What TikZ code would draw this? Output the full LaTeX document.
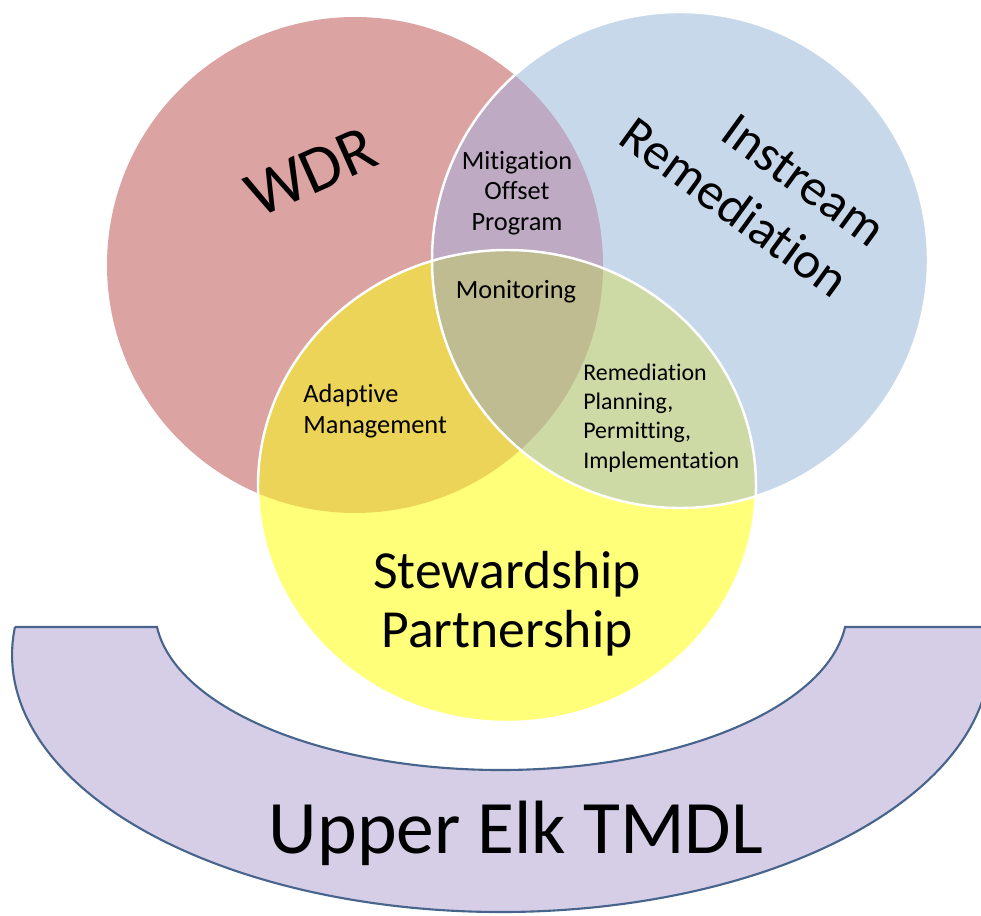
\documentclass[tikz,border=0pt]{standalone}
\usepackage{fontspec}
\setmainfont{Carlito}[Ligatures=NoCommon]

\definecolor{wdrred}{HTML}{DCA3A3}
\definecolor{streamblue}{HTML}{C8D8EB}
\definecolor{stewyellow}{HTML}{FFFF7A}
\definecolor{redblue}{HTML}{BEAAC3}
\definecolor{redyellow}{HTML}{ECD458}
\definecolor{blueyellow}{HTML}{CDDAA5}
\definecolor{allthree}{HTML}{C0BC92}
\definecolor{tmdlfill}{HTML}{D6CDE6}
\definecolor{tmdlline}{HTML}{46648C}

\begin{document}
\begin{tikzpicture}[x=0.02cm, y=0.02cm]
\tikzstyle{every node}+=[inner sep=0pt]
\tikzstyle{rim}=[white, line width=1.4pt]
\tikzstyle{small}=[font=\fontsize{15}{17.3}\selectfont]
\tikzstyle{big}=[font=\fontsize{30.5}{33.5}\selectfont]
\useasboundingbox (0,0) rectangle (981,-916);
\coordinate (wdr) at (355,-265);
\coordinate (stream) at (680,-260);
\coordinate (stew) at (507,-486);
% the three circles
\fill [wdrred] (wdr) circle (248);
\fill [streamblue] (stream) circle (248);
\fill [stewyellow] (stew) ellipse (249 and 236);
\begin{scope}
\clip (wdr) circle (248);
\fill [redblue] (stream) circle (248);
\fill [redyellow] (stew) ellipse (249 and 236);
\end{scope}
\begin{scope}
\clip (stream) circle (248);
\fill [blueyellow] (stew) ellipse (249 and 236);
\clip (wdr) circle (248);
\fill [allthree] (stew) ellipse (249 and 236);
\end{scope}
\draw [rim] (stream) circle (248);
\draw [rim] (stew) ellipse (249 and 236);
% TMDL block arc
\coordinate (arcl) at (14.9,-627);
\coordinate (arcil) at (157,-627);
\coordinate (arcr) at (987.1,-627);
\draw [tmdlline, fill=tmdlfill, line width=1.2pt] (arcl) -- (arcil)
  arc [start angle=186.1, end angle=353.9, x radius=346, y radius=160] -- (arcr)
  arc [start angle=6.26, end angle=-186.26, x radius=489, y radius=257] -- cycle;
% labels
\node [rotate=24, anchor=base west, font=\fontsize{37.5}{40}\selectfont] (wdrlabel) at (258,-219) {WDR};
\node [rotate=-36, anchor=base east, align=right, font=\fontsize{29.5}{36}\selectfont] (streamlabel) at (833,-300) {Instream\\Remediation};
\node [big, align=center, anchor=base] (stewlabel) at (507,-647) {Stewardship\\Partnership};
\node [small, align=center, anchor=base] (offset) at (517,-230) {Mitigation\\Offset\\Program};
\node [small, anchor=base] (monitor) at (516,-298) {Monitoring};
\node [small, align=left, anchor=base west] (adaptive) at (303,-433) {Adaptive\\Management};
\node [align=left, anchor=base west, font=\fontsize{13.6}{16.6}\selectfont] (planning) at (583,-468) {Remediation\\Planning,\\Permitting,\\Implementation};
\node [font=\fontsize{43}{46}\selectfont, anchor=base] (tmdl) at (516,-853) {Upper Elk TMDL};
\end{tikzpicture}
\end{document}
